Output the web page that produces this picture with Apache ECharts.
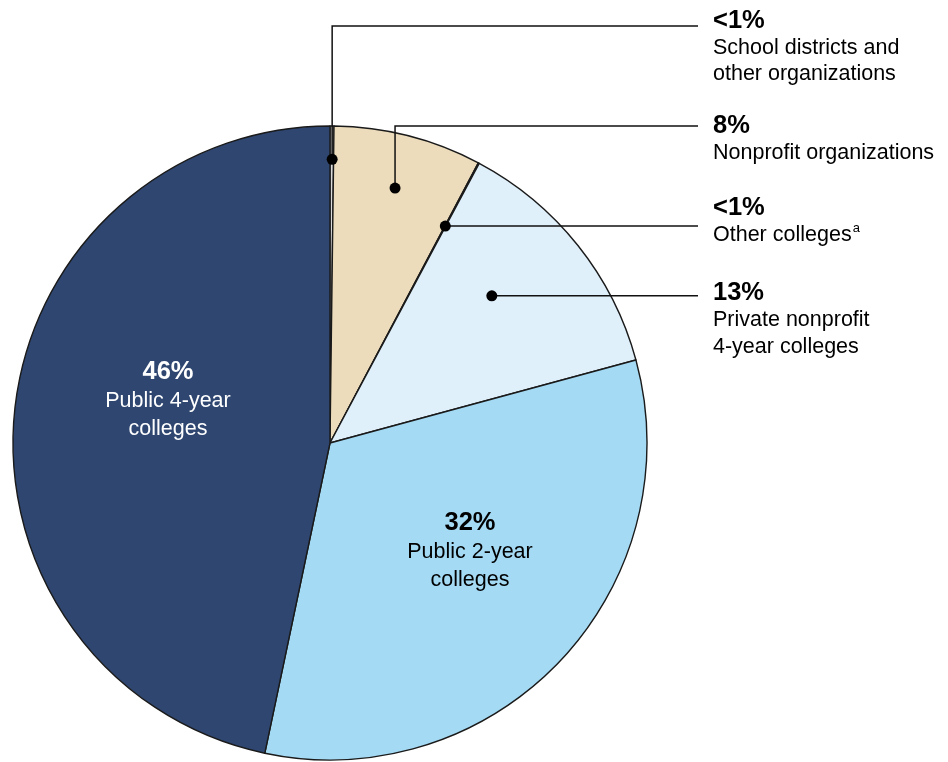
<!DOCTYPE html>
<html>
<head>
<meta charset="utf-8">
<script src="https://cdn.jsdelivr.net/npm/echarts@6/dist/echarts.min.js"></script>
<style>
  html, body { margin: 0; padding: 0; background: #fff; }
  #chart { width: 948px; height: 762px; }
</style>
</head>
<body>
<div id="chart"></div>
<script>
// Recipients of funding, by type of organization (share of total)
const categories = [
  'School districts and other organizations',
  'Nonprofit organizations',
  'Other colleges',
  'Private nonprofit 4-year colleges',
  'Public 2-year colleges',
  'Public 4-year colleges'
];
const nameLines = [
  ['School districts and', 'other organizations'],
  ['Nonprofit organizations'],
  ['Other colleges'],
  ['Private nonprofit', '4-year colleges'],
  ['Public 2-year', 'colleges'],
  ['Public 4-year', 'colleges']
];
const shareValues = [0.2, 7.5, 0.05, 12.9, 32.3, 46.4];
const shareLabels = ['<1%', '8%', '<1%', '13%', '32%', '46%'];
const footnoteMarks = ['', '', 'a', '', '', ''];

// ---- styling / layout ----
const FONT = '"Liberation Sans", Arial, Helvetica, sans-serif';
const sliceColors = ['#dadada', '#ecdcbb', '#dff0fb', '#dff0fb', '#a4daf3', '#2e4670'];
const CX = 330, CY = 443, R = 317;
const TEXT_X = 713, LEADER_END_X = 698;
// callouts: dot placed at fraction t across the slice and fraction r of the radius;
// leaderY set => line rises vertically from the dot, then runs right at that height
const callouts = {
  0: { t: 0.6, r: 0.895, leaderY: 26, top: 6.5 },
  1: { t: 0.5, r: 0.83, leaderY: 126, top: 112 },
  2: { t: 0.5, r: 0.775, leaderY: null, top: 194 },
  3: { t: 0.42, r: 0.69, leaderY: null, top: 279 }
};
const insideSpots = { 4: { x: 470, y: 551 }, 5: { x: 168, y: 400 } };

function richFor(color, loose) {
  return {
    pct: { fontFamily: FONT, fontWeight: 'bold', fontSize: 25.5, lineHeight: loose ? 30 : 28, color: color },
    name: { fontFamily: FONT, fontSize: 21.5, lineHeight: loose ? 28 : 26.5, color: color },
    sup: { fontFamily: FONT, fontSize: 13, lineHeight: 13, verticalAlign: 'top', color: color, padding: [0, 0, 8, 1] }
  };
}

function labelText(i) {
  const lines = nameLines[i].map(s => '{name|' + s + '}');
  if (footnoteMarks[i]) lines[lines.length - 1] += '{sup|' + footnoteMarks[i] + '}';
  return ['{pct|' + shareLabels[i] + '}'].concat(lines).join('\n');
}

const chart = echarts.init(document.getElementById('chart'), null, { renderer: 'canvas' });

// angle range of a slice, from the pie's own layout when available
function sliceAngles(i) {
  try {
    const data = chart.getModel().getSeriesByIndex(0).getData();
    const l = data.getItemLayout(i);
    if (l && l.startAngle != null) {
      return { a0: l.startAngle, a1: l.endAngle, cx: l.cx, cy: l.cy, r: l.r };
    }
  } catch (e) { /* fall through */ }
  const total = shareValues.reduce((a, b) => a + b, 0);
  let acc = 0;
  for (let k = 0; k < i; k++) acc += shareValues[k];
  const a0 = -Math.PI / 2 + acc / total * Math.PI * 2;
  const a1 = a0 + shareValues[i] / total * Math.PI * 2;
  return { a0, a1, cx: CX, cy: CY, r: R };
}

function dotPoint(i) {
  const c = callouts[i];
  const s = sliceAngles(i);
  const a = s.a0 + (s.a1 - s.a0) * c.t;
  return [s.cx + Math.cos(a) * s.r * c.r, s.cy + Math.sin(a) * s.r * c.r];
}

const seriesData = categories.map((name, i) => {
  const item = { name: name, value: shareValues[i], itemStyle: { color: sliceColors[i] } };
  if (insideSpots[i]) {
    const c = i === 5 ? '#ffffff' : '#000000';
    item.label = { position: 'inside', color: c, rich: richFor(c, true) };
  }
  return item;
});

chart.setOption({
  animation: false,
  backgroundColor: '#ffffff',
  series: [{
    type: 'pie',
    center: [CX, CY],
    radius: R,
    startAngle: 90,
    clockwise: true,
    avoidLabelOverlap: false,
    silent: true,
    itemStyle: { borderColor: '#1a1a1a', borderWidth: 1.4 },
    label: {
      show: true,
      position: 'outside',
      color: '#000',
      formatter: p => labelText(p.dataIndex),
      rich: richFor('#000000', false)
    },
    labelLine: { show: false },
    labelLayout: function (params) {
      const i = params.dataIndex;
      if (insideSpots[i]) {
        return { x: insideSpots[i].x, y: insideSpots[i].y, align: 'center', verticalAlign: 'middle' };
      }
      return { x: TEXT_X, y: callouts[i].top, align: 'left', verticalAlign: 'top' };
    },
    data: seriesData
  }]
});

// callout leaders: dot inside the slice, elbow line out to the label
const callGraphics = [];
Object.keys(callouts).forEach(k => {
  const i = +k;
  const c = callouts[i];
  const d = dotPoint(i);
  const y = c.leaderY != null ? c.leaderY : d[1];
  callGraphics.push({
    type: 'polyline',
    shape: { points: [[d[0], d[1]], [d[0], y], [LEADER_END_X, y]] },
    style: { stroke: '#111', lineWidth: 1.5, fill: null },
    z: 100
  });
  callGraphics.push({
    type: 'circle',
    shape: { cx: d[0], cy: d[1], r: 5.5 },
    style: { fill: '#000' },
    z: 101
  });
});
chart.setOption({ graphic: callGraphics });
</script>
</body>
</html>
